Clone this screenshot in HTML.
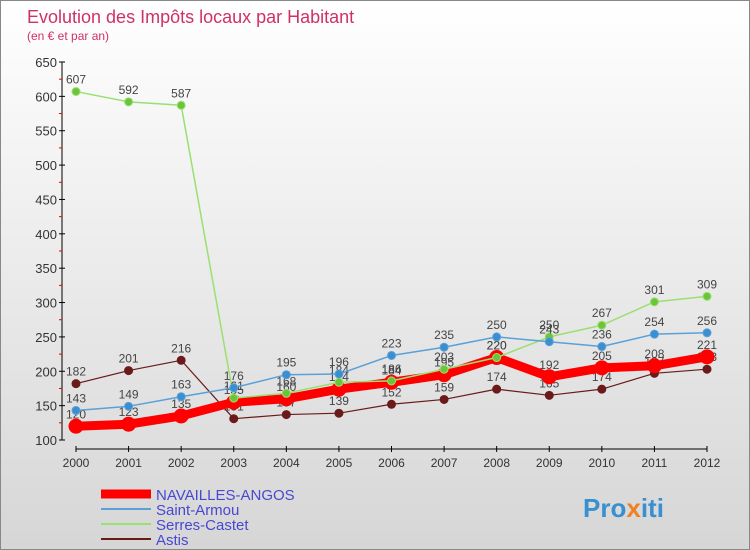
<!DOCTYPE html>
<html><head><meta charset="utf-8"><style>
body{margin:0}
#wrap{width:750px;height:550px;position:relative;background:linear-gradient(#fff,#d6d6d6);font-family:"Liberation Sans",sans-serif;overflow:hidden;box-sizing:border-box;border:1px solid #888}
</style></head><body>
<div id="wrap">
<svg id="svg" width="750" height="550"></svg>
</div>
<script>
const years=[2000,2001,2002,2003,2004,2005,2006,2007,2008,2009,2010,2011,2012];
const navailles=[120,123,135,155,160,174,184,195,220,192,205,208,221];
const saintArmou=[143,149,163,176,195,196,223,235,250,243,236,254,256];
const serresCastet=[607,592,587,161,168,184,186,203,220,250,267,301,309];
const astis=[182,201,216,131,137,139,152,159,174,165,174,197,203];
const yTicks=[100,150,200,250,300,350,400,450,500,550,600,650];
const NS='http://www.w3.org/2000/svg';
const svg=document.getElementById('svg');
function el(t,a,p){const e=document.createElementNS(NS,t);for(const k in a)e.setAttribute(k,a[k]);(p||svg).appendChild(e);return e;}
const X=i=>75+i*(706-75)/(years.length-1);
const Y=v=>439-(v-100)*(439-61)/550;
let t=el('text',{x:26,y:22,fill:'#d0306a','font-size':18});t.textContent='Evolution des Impôts locaux par Habitant';

t=el('text',{x:26,y:39,fill:'#d0306a','font-size':12});t.textContent='(en € et par an)';

const ax=el('g',{});
el('line',{x1:61,y1:61,x2:61,y2:439,stroke:'#000'},ax);
yTicks.forEach(v=>{el('line',{x1:58,x2:64,y1:Y(v),y2:Y(v),stroke:'#000'},ax);
 if(v<650)el('line',{x1:58,x2:61,y1:Y(v+25),y2:Y(v+25),stroke:'#e00'},ax);
 const tx=el('text',{x:56,y:Y(v)+5,'text-anchor':'end','font-size':13,fill:'#333'},ax);tx.textContent=v;});
const xa=el('g',{});
el('line',{x1:75,y1:448,x2:706,y2:448,stroke:'#000'},xa);
years.forEach((y,i)=>{el('line',{x1:X(i),x2:X(i),y1:445,y2:451,stroke:'#000'},xa);
 const tx=el('text',{x:X(i),y:466,'text-anchor':'middle','font-size':12,fill:'#333'},xa);tx.textContent=y;});
function series(name,data,color,w,r,dot){
 const g=el('g',{});
 el('polyline',{points:data.map((v,i)=>X(i)+','+Y(v)).join(' '),fill:'none',stroke:color,'stroke-width':w,'stroke-linejoin':'round'},g);
 data.forEach((v,i)=>{const c=el('circle',{cx:X(i),cy:Y(v),r:r,fill:dot,stroke:color,'stroke-width':1},g);
  
  const tx=el('text',{x:X(i),y:Y(v)-8,'text-anchor':'middle','font-size':12,fill:'#444'},g);tx.textContent=v;});
}
series('series-astis',astis,'#6b1a1a',1.2,4,'#6b1a1a');
series('series-navailles',navailles,'#f00',9,7,'#f00');
series('series-serres-castet',serresCastet,'#99e070',1.5,4,'#6cc43a');
series('series-saint-armou',saintArmou,'#5aa0d8',1.5,4,'#3a8fd0');
const legend=[['NAVAILLES-ANGOS','#f00',9],['Saint-Armou','#5aa0d8',2],['Serres-Castet','#99e070',2],['Astis','#6b1a1a',2]];
legend.forEach((l,i)=>{const g=el('g',{});
 const y=493+i*15;el('line',{x1:100,x2:150,y1:y,y2:y,stroke:l[1],'stroke-width':l[2]},g);
 const tx=el('text',{x:155,y:y+6,'font-size':15,fill:'#4848d0'},g);tx.textContent=l[0];});
t=el('text',{x:582,y:516,'font-size':26,'font-weight':'bold',fill:'#3a8fd0'});t.textContent='Pro';
const ts=el('tspan',{fill:'#f08020'},t);ts.textContent='x';const ts2=el('tspan',{fill:'#3a8fd0'},t);ts2.textContent='iti';

</script>
</body></html>
